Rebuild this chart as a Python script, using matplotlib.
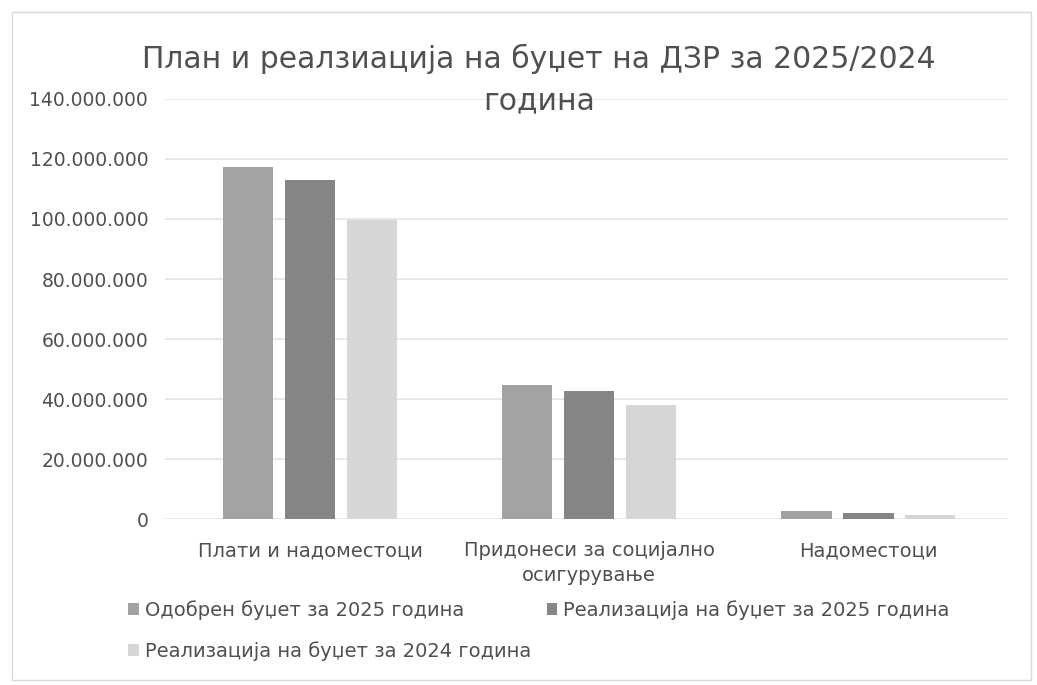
import matplotlib

matplotlib.use("Agg")
import matplotlib.pyplot as plt
import numpy as np
from matplotlib.patches import Rectangle
from matplotlib.ticker import FuncFormatter

categories = ["Плати и надоместоци", "Придонеси за социјално\nосигурување", "Надоместоци"]
series_names = [
    "Одобрен буџет за 2025 година",
    "Реализација на буџет за 2025 година",
    "Реализација на буџет за 2024 година",
]
approved_2025 = [117_300_000, 44_700_000, 2_600_000]
realized_2025 = [113_000_000, 42_700_000, 1_900_000]
realized_2024 = [99_700_000, 38_000_000, 1_300_000]
colors = ["#a3a3a3", "#858585", "#d6d6d6"]

TEXT = "#505050"
plt.rcParams["font.family"] = ["DejaVu Sans"]

fig = plt.figure(figsize=(10.37, 6.85), dpi=100)
ax = fig.add_axes([0.159, 0.2423, 0.813, 0.6132])

x = np.arange(len(categories))
width = 0.18
offset = 0.222
bars = []
for i, (vals, name, col) in enumerate(
    zip([approved_2025, realized_2025, realized_2024], series_names, colors)
):
    bars.append(ax.bar(x + (i - 1) * offset, vals, width, color=col, label=name, zorder=3))

ax.set_xlim(-0.52, 2.5)
ax.set_ylim(0, 140_000_000)
ax.set_yticks(np.arange(0, 140_000_001, 20_000_000))
ax.yaxis.set_major_formatter(
    FuncFormatter(lambda v, _: f"{int(v):,}".replace(",", "."))
)
ax.grid(axis="y", color="#e3e3e3", linewidth=1.2, zorder=0)
for s in ax.spines.values():
    s.set_visible(False)
ax.tick_params(axis="both", length=0, labelsize=13.5, labelcolor=TEXT)
ax.tick_params(axis="y", pad=12)
ax.set_xticks(x)
ax.set_xticklabels(categories, fontsize=14, color=TEXT, va="top", linespacing=1.4)
ax.tick_params(axis="x", pad=16)

fig.text(
    0.52, 0.884, "План и реалзиација на буџет на ДЗР за 2025/2024\nгодина",
    ha="center", va="center", fontsize=21.5, color=TEXT, linespacing=1.5,
)

# legend rows: first two items on row one, third on row two
order = [0, 2, 1]
ax.legend(
    [bars[i] for i in order], [series_names[i] for i in order],
    loc="upper left", bbox_to_anchor=(0.107, 0.149), bbox_transform=fig.transFigure,
    ncol=2, frameon=False, fontsize=14, labelcolor=TEXT,
    handlelength=0.55, handleheight=0.55, handletextpad=0.3,
    columnspacing=0.8, labelspacing=1.1,
)

fig.patches.append(
    Rectangle((0.012, 0.008), 0.982, 0.975, transform=fig.transFigure,
              fill=False, edgecolor="#d9d9d9", linewidth=1.0)
)

fig.savefig("out.png", dpi=100, facecolor="white")
